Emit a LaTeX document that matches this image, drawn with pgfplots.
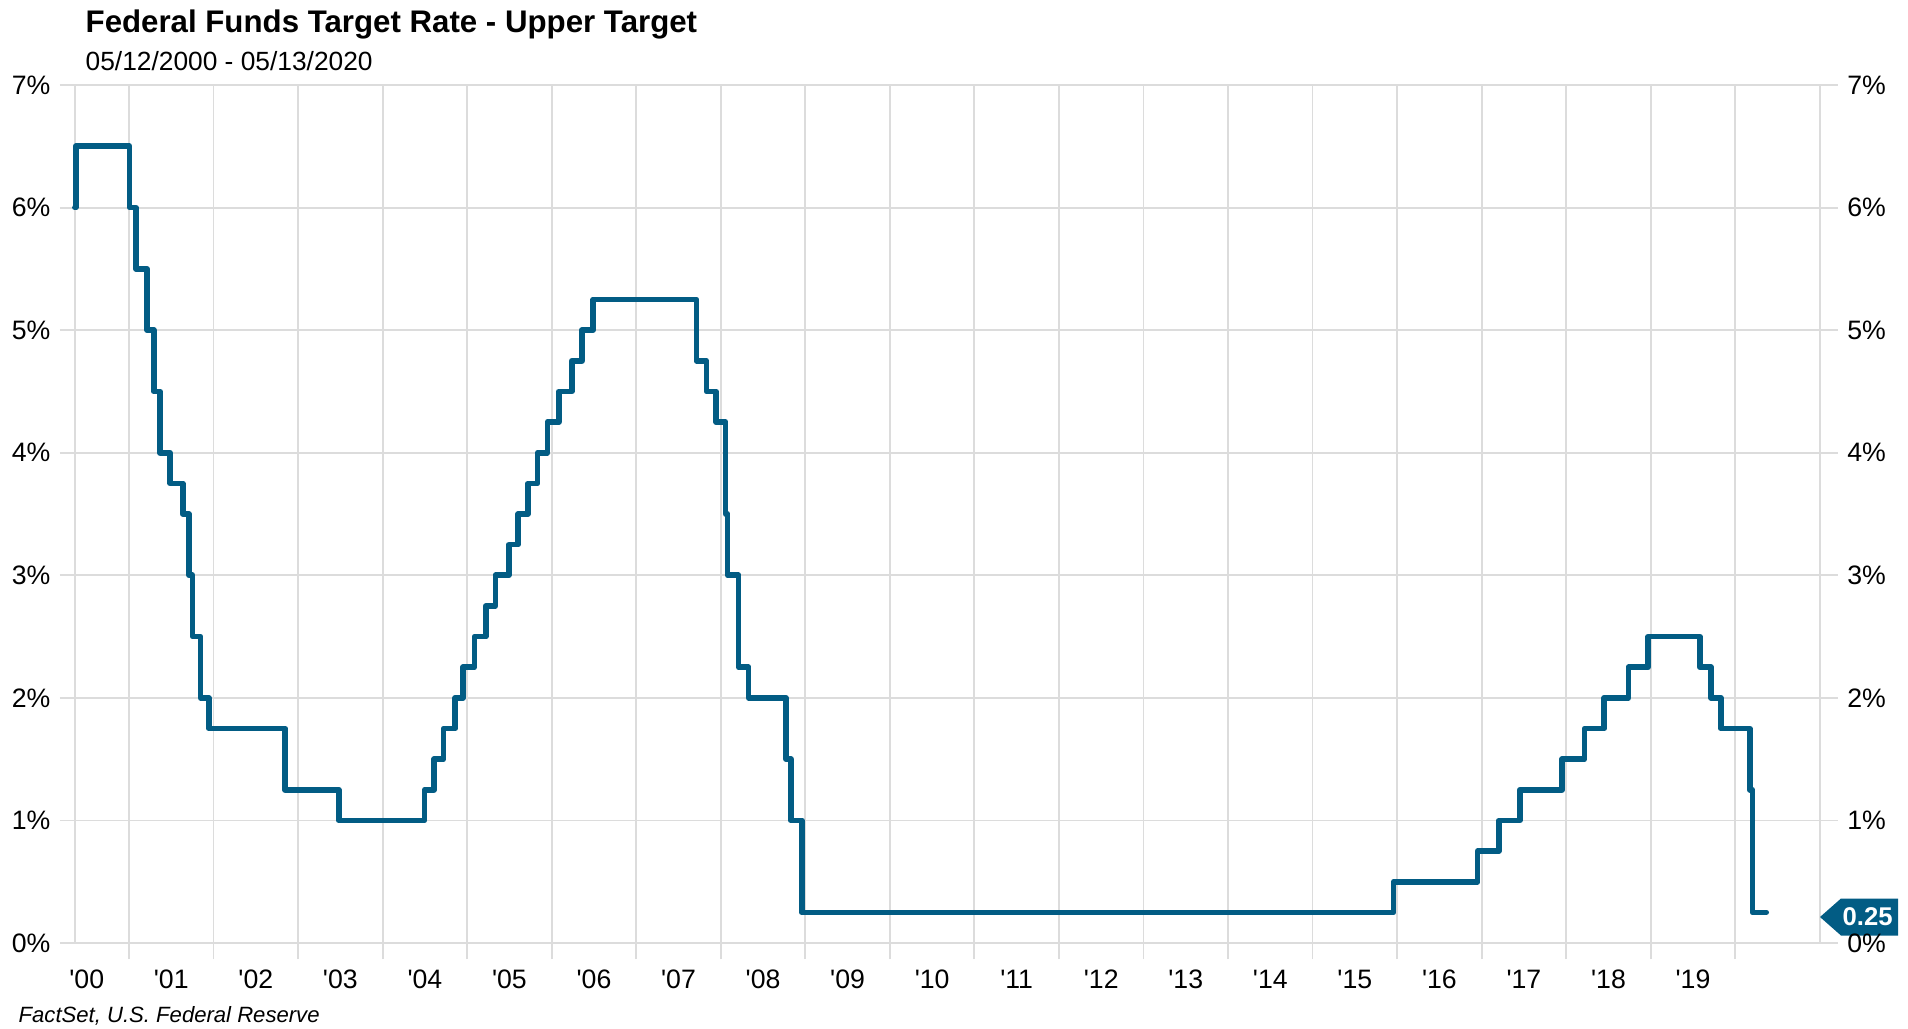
\documentclass[border=0pt]{standalone}
\usepackage{fontspec}
\setmainfont{Liberation Sans}[Ligatures=TeXOff]
\usepackage{pgfplots}
\pgfplotsset{compat=1.18}
\definecolor{lineblue}{RGB}{2,92,132}
\definecolor{gridgray}{RGB}{220,220,220}
\begin{document}
\begin{tikzpicture}
\begin{axis}[
  name=ax, at={(0,0)}, anchor=south west,
  scale only axis, width=533.4pt, height=257.4pt,
  xmin=2000.184, xmax=2021.213, ymin=0, ymax=7,
  axis line style={draw=none},
  clip=false,
  xtick={2000.5,2001.5,...,2019.5},
  xticklabels={'00,'01,'02,'03,'04,'05,'06,'07,'08,'09,'10,'11,'12,'13,'14,'15,'16,'17,'18,'19},
  minor xtick={2001,2002,...,2020},
  extra x ticks={2000.36,2021},
  extra x tick labels={},
  extra x tick style={grid=major, major tick length=0pt},
  xmajorgrids=false, xminorgrids=true,
  major tick length=0pt, minor tick length=4.8pt,
  tick align=outside,
  xtick pos=left,
  xtick style={draw=gridgray, line width=0.55pt},
  ytick={0,1,...,7},
  yticklabels={0\%,1\%,2\%,3\%,4\%,5\%,6\%,7\%},
  ytick style={draw=none},
  ymajorgrids=true,
  grid style={draw=gridgray, line width=0.55pt},
  minor grid style={draw=gridgray, line width=0.55pt},
  major grid style={draw=gridgray, line width=0.55pt},
  ticklabel style={font=\fontsize{8}{9}\selectfont, text=black},
  xticklabel style={anchor=center, inner sep=0pt, yshift=-10.8pt},
  yticklabel style={anchor=east, inner sep=0pt, xshift=-2.7pt},
]
\addplot[const plot, color=lineblue, line width=1.7pt, line join=round, line cap=round] coordinates {
(2000.360,6.00) (2000.370,6.50)
(2001.005,6.00) (2001.082,5.50) (2001.214,5.00) (2001.293,4.50) (2001.367,4.00)
(2001.485,3.75) (2001.636,3.50) (2001.710,3.00) (2001.751,2.50) (2001.847,2.00)
(2001.943,1.75)
(2002.847,1.25)
(2003.482,1.00)
(2004.495,1.25) (2004.607,1.50) (2004.721,1.75) (2004.858,2.00) (2004.951,2.25)
(2005.088,2.50) (2005.219,2.75) (2005.334,3.00) (2005.493,3.25) (2005.603,3.50)
(2005.718,3.75) (2005.833,4.00) (2005.948,4.25)
(2006.082,4.50) (2006.236,4.75) (2006.356,5.00) (2006.490,5.25)
(2007.712,4.75) (2007.830,4.50) (2007.943,4.25)
(2008.057,3.50) (2008.079,3.00) (2008.210,2.25) (2008.328,2.00) (2008.770,1.50)
(2008.827,1.00) (2008.956,0.25)
(2015.956,0.50)
(2016.951,0.75)
(2017.203,1.00) (2017.449,1.25) (2017.948,1.50)
(2018.216,1.75) (2018.447,2.00) (2018.734,2.25) (2018.967,2.50)
(2019.578,2.25) (2019.712,2.00) (2019.827,1.75)
(2020.169,1.25) (2020.202,0.25) (2020.364,0.25)
};
\fill[lineblue] ([yshift=7.8pt]axis cs:2021,0) -- ++(6.3pt,5.55pt) -- ++(17.1pt,0pt) -- ++(0pt,-11.1pt) -- ++(-17.1pt,0pt) -- cycle;
\node[text=white, inner sep=0pt, font=\bfseries\fontsize{7.7}{9}\selectfont] at ([xshift=14.3pt,yshift=7.8pt]axis cs:2021,0) {0.25};
\end{axis}
\begin{axis}[
  at={(0,0)}, anchor=south west,
  scale only axis, width=533.4pt, height=257.4pt,
  xmin=2000.184, xmax=2021.213, ymin=0, ymax=7,
  axis line style={draw=none},
  xtick=\empty,
  ytick={0,1,...,7},
  yticklabels={0\%,1\%,2\%,3\%,4\%,5\%,6\%,7\%},
  yticklabel pos=right,
  ytick style={draw=none},
  ticklabel style={font=\fontsize{8}{9}\selectfont, text=black},
  yticklabel style={anchor=west, inner sep=0pt, xshift=2.6pt},
]
\end{axis}
\node[anchor=base west, inner sep=0pt, font=\bfseries\fontsize{9.37}{11}\selectfont] at (7.5pt,273pt) {Federal Funds Target Rate - Upper Target};
\node[anchor=base west, inner sep=0pt, font=\fontsize{7.9}{9}\selectfont] at (7.5pt,261.6pt) {05/12/2000 - 05/13/2020};
\node[anchor=base west, inner sep=0pt, font=\itshape\fontsize{6.63}{8}\selectfont] at (-12.6pt,-23.9pt) {FactSet, U.S. Federal Reserve};
\pgfresetboundingbox
\useasboundingbox (-18pt,-25.5pt) rectangle (554.4pt,282.9pt);
\end{tikzpicture}
\end{document}
